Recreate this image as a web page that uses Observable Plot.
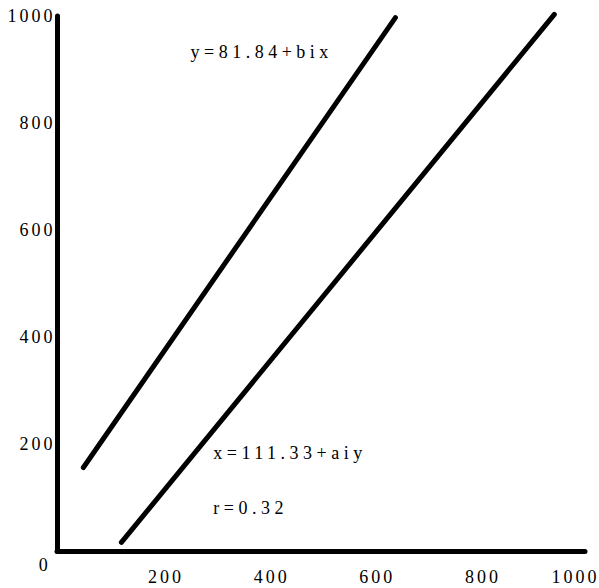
<!DOCTYPE html>
<html>
<head>
<meta charset="utf-8">
<script src="https://cdn.jsdelivr.net/npm/d3@7"></script>
<script src="https://cdn.jsdelivr.net/npm/@observablehq/plot@0.6"></script>
<style>
  html, body { margin: 0; padding: 0; background: #fff; }
  #chart svg { display: block; }
</style>
</head>
<body>
<div id="chart"></div>
<script>
// Regression lines
const line1X = [49, 640];
const line1Y = [157, 998];
const line2X = [121, 941];
const line2Y = [17, 1004];

// Tick labels
const xTicks = [200, 400, 600, 800];
const xLastTick = [1000];
const yTicks = [200, 400, 600, 800, 1000];

// Annotations
const noteText = ["y=81.84+bix", "x=111.33+aiy", "r=0.32"];
const noteX = [252, 295, 295];
const noteY = [933, 183, 80];

const line1 = line1X.map((x, i) => ({x, y: line1Y[i]}));
const line2 = line2X.map((x, i) => ({x, y: line2Y[i]}));
const notes = noteText.map((t, i) => ({t, x: noteX[i], y: noteY[i]}));

const font = "'Liberation Serif', 'DejaVu Serif', serif";
const fmt = d => String(d);

const chart = Plot.plot({
  width: 599,
  height: 588,
  marginLeft: 57,
  marginRight: 14,
  marginTop: 16,
  marginBottom: 37,
  style: {fontFamily: font, color: "#000", background: "#fff"},
  x: {domain: [0, 1000]},
  y: {domain: [0, 1000]},
  marks: [
    Plot.axisX(xTicks, {tickSize: 0, tickPadding: 19, fontSize: 18, label: null, fill: "#000", tickFormat: fmt, dx: 3}),
    Plot.axisX(xLastTick, {tickSize: 0, tickPadding: 19, fontSize: 18, label: null, fill: "#000", tickFormat: fmt, dx: -10}),
    Plot.axisY(yTicks, {tickSize: 0, tickPadding: 2, fontSize: 18, label: null, fill: "#000", tickFormat: fmt}),
    Plot.text([0], {x: d => d, y: d => d, text: ["0"], dx: -12, dy: 14, fontSize: 18, fill: "#000"}),
    Plot.ruleX([0], {y1: 0, y2: 1000, stroke: "#000", strokeWidth: 5, strokeLinecap: "round"}),
    Plot.ruleY([0], {x1: 0, x2: 1000, stroke: "#000", strokeWidth: 5, strokeLinecap: "round"}),
    Plot.line(line1, {x: "x", y: "y", stroke: "#000", strokeWidth: 5, strokeLinecap: "round"}),
    Plot.line(line2, {x: "x", y: "y", stroke: "#000", strokeWidth: 5, strokeLinecap: "round"}),
    Plot.text(notes, {x: "x", y: "y", text: "t", textAnchor: "start", fontSize: 18, fill: "#000"})
  ]
});
// typewriter-like wide spacing
d3.select(chart).selectAll("text").style("letter-spacing", "3px");
d3.select(chart).selectAll("g[aria-label='text'] text").style("letter-spacing", "4.5px");
document.getElementById("chart").appendChild(chart);
</script>
</body>
</html>
